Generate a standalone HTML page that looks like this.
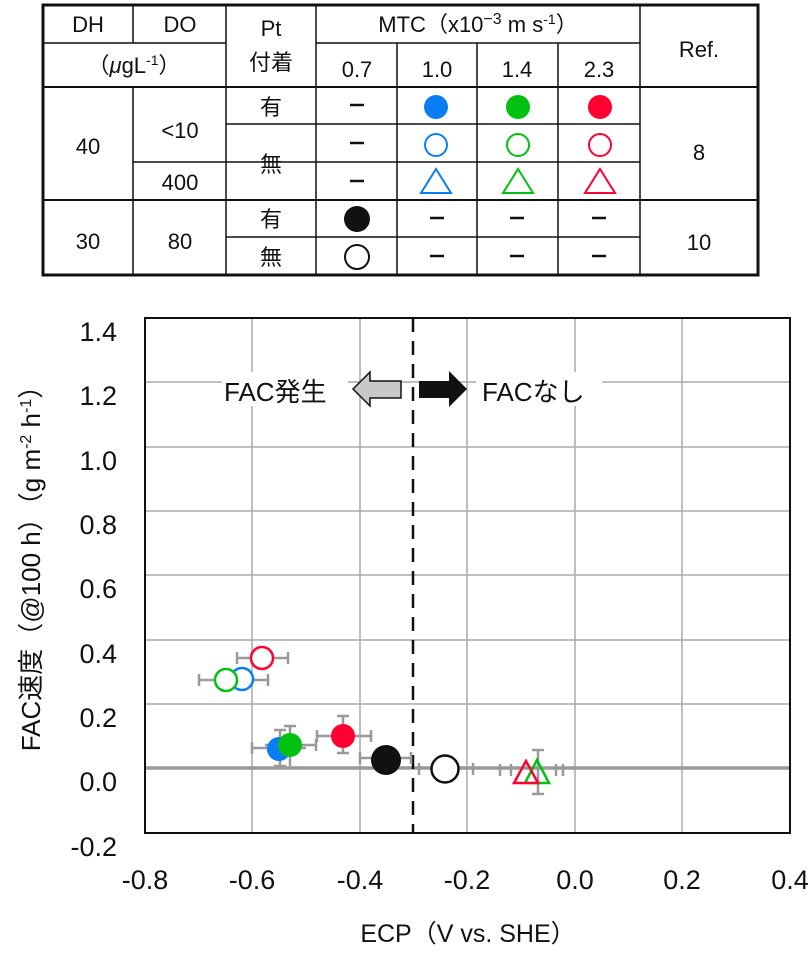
<!DOCTYPE html>
<html><head><meta charset="utf-8"><style>
body{margin:0;background:#fff}
svg text{font-family:"Liberation Sans","Noto Sans CJK JP",sans-serif;fill:#111}
</style></head><body>
<svg width="812" height="950" xmlns="http://www.w3.org/2000/svg">
<!-- table -->
<g stroke="#111" stroke-width="1.5" fill="none">
<rect x="43" y="5" width="715" height="270" stroke-width="3"/>
<line x1="43" y1="43" x2="226" y2="43"/>
<line x1="316" y1="43" x2="640" y2="43"/>
<line x1="43" y1="87" x2="758" y2="87" stroke-width="2"/>
<line x1="226" y1="124" x2="640" y2="124"/>
<line x1="133" y1="162" x2="640" y2="162"/>
<line x1="43" y1="200" x2="758" y2="200" stroke-width="2"/>
<line x1="226" y1="237" x2="640" y2="237"/>
<line x1="133" y1="5" x2="133" y2="43"/>
<line x1="133" y1="87" x2="133" y2="275"/>
<line x1="226" y1="5" x2="226" y2="275"/>
<line x1="316" y1="5" x2="316" y2="275"/>
<line x1="397" y1="43" x2="397" y2="275"/>
<line x1="477" y1="43" x2="477" y2="275"/>
<line x1="558" y1="43" x2="558" y2="275"/>
<line x1="640" y1="5" x2="640" y2="275"/>
</g>
<g font-size="22" text-anchor="middle">
<text x="88" y="32">DH</text><text x="180" y="32">DO</text>
<text x="134" y="73">（<tspan font-style="italic">μ</tspan>gL<tspan font-size="14" dy="-8">-1</tspan><tspan dy="8">）</tspan></text>
<text x="271" y="36">Pt</text><text x="271" y="70">付着</text>
<text x="478" y="32">MTC（x10<tspan font-size="16" dy="-8">−3</tspan><tspan dy="8"> m s</tspan><tspan font-size="14" dy="-8">-1</tspan><tspan dy="8">）</tspan></text>
<text x="357" y="77">0.7</text><text x="437" y="77">1.0</text><text x="517" y="77">1.4</text><text x="599" y="77">2.3</text>
<text x="699" y="57">Ref.</text>
<text x="88" y="154">40</text><text x="180" y="138">&lt;10</text><text x="180" y="190">400</text>
<text x="271" y="115">有</text><text x="271" y="172">無</text>
<text x="88" y="249">30</text><text x="180" y="249">80</text>
<text x="271" y="227">有</text><text x="271" y="265">無</text>
<text x="699" y="160">8</text><text x="699" y="250">10</text>
</g>
<g stroke="#111" stroke-width="2.5">
<line x1="350" y1="105" x2="364" y2="105"/><line x1="350" y1="143" x2="364" y2="143"/><line x1="350" y1="181" x2="364" y2="181"/>
<line x1="430" y1="218" x2="444" y2="218"/><line x1="510" y1="218" x2="524" y2="218"/><line x1="592" y1="218" x2="606" y2="218"/>
<line x1="430" y1="256" x2="444" y2="256"/><line x1="510" y1="256" x2="524" y2="256"/><line x1="592" y1="256" x2="606" y2="256"/>
</g>
<circle cx="436" cy="107" r="12" fill="#0a7df5"/><circle cx="518" cy="107" r="12" fill="#00c010"/><circle cx="600" cy="107" r="12" fill="#ff0030"/>
<g fill="none" stroke-width="2">
<circle cx="436" cy="145" r="11" stroke="#0a7df5"/><circle cx="518" cy="145" r="11" stroke="#00c010"/><circle cx="600" cy="145" r="11" stroke="#ff0030"/>
<polygon points="436,169 451,193 421,193" stroke="#0a7df5"/><polygon points="518,169 533,193 503,193" stroke="#00c010"/><polygon points="600,169 615,193 585,193" stroke="#ff0030"/>
<circle cx="357" cy="257" r="12" stroke="#111"/>
</g>
<circle cx="357" cy="219" r="13" fill="#111"/>

<!-- plot -->
<g stroke="#aaa" stroke-width="1.5">
<line x1="252" y1="318" x2="252" y2="833"/><line x1="360" y1="318" x2="360" y2="833"/><line x1="467" y1="318" x2="467" y2="833"/><line x1="575" y1="318" x2="575" y2="833"/><line x1="682" y1="318" x2="682" y2="833"/>
<line x1="145" y1="382" x2="790" y2="382"/><line x1="145" y1="447" x2="790" y2="447"/><line x1="145" y1="511" x2="790" y2="511"/><line x1="145" y1="575" x2="790" y2="575"/><line x1="145" y1="640" x2="790" y2="640"/><line x1="145" y1="704" x2="790" y2="704"/>
</g>
<line x1="145" y1="768" x2="790" y2="768" stroke="#999" stroke-width="3.5"/>
<line x1="413" y1="318" x2="413" y2="833" stroke="#111" stroke-width="2.5" stroke-dasharray="14,9"/>
<rect x="145" y="318" width="645" height="515" fill="none" stroke="#111" stroke-width="2"/>
<g font-size="27" text-anchor="end">
<text x="117" y="341">1.4</text><text x="117" y="405">1.2</text><text x="117" y="470">1.0</text><text x="117" y="534">0.8</text><text x="117" y="598">0.6</text><text x="117" y="663">0.4</text><text x="117" y="727">0.2</text><text x="117" y="791">0.0</text><text x="117" y="856">-0.2</text>
</g>
<g font-size="27" text-anchor="middle">
<text x="145" y="889">-0.8</text><text x="252" y="889">-0.6</text><text x="360" y="889">-0.4</text><text x="467" y="889">-0.2</text><text x="575" y="889">0.0</text><text x="682" y="889">0.2</text><text x="790" y="889">0.4</text>
<text x="468" y="942" font-size="25">ECP（V vs. SHE）</text>
</g>
<text transform="translate(40,562) rotate(-90)" font-size="26" text-anchor="middle">FAC速度（@100 h）（g m<tspan font-size="16" dy="-9">-2</tspan><tspan dy="9"> h</tspan><tspan font-size="16" dy="-9">-1</tspan><tspan dy="9">）</tspan></text>
<rect x="222" y="372" width="126" height="34" fill="#fff"/>
<text x="224" y="401" font-size="26">FAC発生</text>
<rect x="476" y="372" width="126" height="34" fill="#fff"/>
<text x="482" y="401" font-size="26">FACなし</text>
<polygon points="353,389 370,372 370,381 401,381 401,398 370,398 370,406" fill="#c8c8c8" stroke="#111" stroke-width="1.5"/>
<polygon points="419,381 449,381 449,371 467,389 449,407 449,398 419,398" fill="#111"/>
<!-- error bars -->
<g stroke="#999" stroke-width="2.5" fill="none">
<path d="M237,658H288M237,652v12M288,652v12"/>
<path d="M218,680H268M218,674v12M268,674v12"/>
<path d="M199,680H254M199,674v12"/>
<path d="M252,748H306M252,742v12M280,730v36M274,730h12M274,766h12"/>
<path d="M265,745H316M316,739v12M290,726v40M284,726h12"/>
<path d="M317,736H371M317,730v12M371,730v12M343,716v37M337,716h12M337,753h12"/>
<path d="M360,758H411M360,752v12M411,752v12"/>
<path d="M419,763v12M473,763v12"/>
<path d="M500,764v12M511,764v12M556,764v12M563,764v12M538,750v44M532,750h12M532,794h12"/>
</g>
<g stroke-width="2.5" fill="none">
<circle cx="262" cy="658" r="11" stroke="#ff0030" fill="#fff"/>
<circle cx="242" cy="679" r="11" stroke="#0a7df5" fill="#fff"/>
<circle cx="226" cy="680" r="11" stroke="#00c010" fill="#fff"/>
</g>
<circle cx="279" cy="749" r="12" fill="#0a7df5"/>
<circle cx="290" cy="745" r="12" fill="#00c010"/>
<circle cx="343" cy="736" r="12" fill="#ff0030"/>
<circle cx="386" cy="760" r="15" fill="#111"/>
<circle cx="445" cy="769" r="13.5" fill="#fff" stroke="#111" stroke-width="2.5"/>
<polygon points="537,760 549,783 525,783" fill="none" stroke="#00c010" stroke-width="2.5"/>
<polygon points="526,761 538,783 514,783" fill="none" stroke="#ff0030" stroke-width="2.5"/>
</svg>
</body></html>
